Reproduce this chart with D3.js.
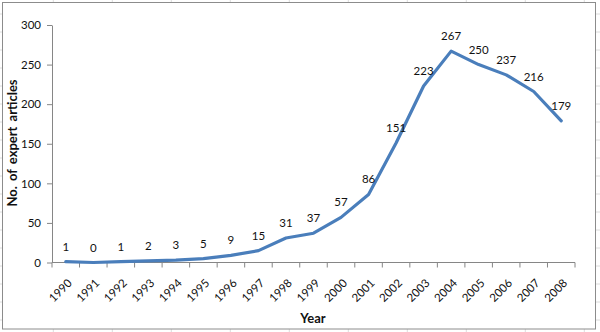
<!DOCTYPE html>
<html><head><meta charset="utf-8">
<script src="https://cdn.jsdelivr.net/npm/d3@7"></script>
<style>body{margin:0;background:#fff}svg{display:block}</style>
</head><body>
<svg id="c" width="600" height="332"></svg>
<script>
const years = ["1990","1991","1992","1993","1994","1995","1996","1997","1998","1999","2000","2001","2002","2003","2004","2005","2006","2007","2008"];
const articles = [1,0,1,2,3,5,9,15,31,37,57,86,151,223,267,250,237,216,179];
const yTicks = [0,50,100,150,200,250,300];

(function () {
const svg = d3.select("#c");
const W = 600, H = 332;
const font = "Lato, 'Open Sans', sans-serif";

// faint spreadsheet cell grid behind the chart
const colX = d3.range(53.3, W, 59);
const rowY = d3.range(14, H, 18);
svg.selectAll(".gv").data(colX).join("line")
  .attr("x1", d => d).attr("x2", d => d).attr("y1", 0).attr("y2", H)
  .attr("stroke", "#dcdcdc").attr("stroke-width", 1);
svg.selectAll(".gh").data(rowY).join("line")
  .attr("x1", 0).attr("x2", W).attr("y1", d => d).attr("y2", d => d)
  .attr("stroke", "#dcdcdc").attr("stroke-width", 1);

// chart frame
svg.append("rect").attr("x", 2.5).attr("y", 2.5).attr("width", 593).attr("height", 326.5)
  .attr("fill", "#fff").attr("stroke", "#8c8c8c").attr("stroke-width", 1);

const pL = 52, pR = 575, pT = 25, pB = 262.5;
const x = d3.scaleBand().domain(years).range([pL, pR]);
const y = d3.scaleLinear().domain([0, 300]).range([pB, pT]);

// y axis
const yAxis = d3.axisLeft(y).tickValues(yTicks).tickSize(5).tickPadding(6).tickSizeOuter(0);
const gy = svg.append("g").attr("transform", `translate(${pL},0)`).call(yAxis);
gy.select(".domain").attr("stroke", "#868686");
gy.selectAll(".tick line").attr("stroke", "#868686");
gy.selectAll("text").attr("font-family", font).attr("font-size", 11.5).attr("fill", "#111");

// x axis: ticks between categories
const gx = svg.append("g").attr("transform", `translate(0,${pB})`);
gx.append("line").attr("x1", pL).attr("x2", pR).attr("y1", 0).attr("y2", 0).attr("stroke", "#868686");
const bounds = years.map(d => x(d)).concat([pR]);
gx.selectAll(".xt").data(bounds).join("line")
  .attr("x1", d => d).attr("x2", d => d).attr("y1", 0).attr("y2", 5).attr("stroke", "#868686");
gx.selectAll(".xl").data(years).join("text")
  .attr("transform", d => `translate(${x(d) + x.bandwidth() / 2 + 4},18.5) rotate(-45)`)
  .attr("text-anchor", "end").attr("dy", "0.35em")
  .attr("font-family", font).attr("font-size", 11.5).attr("fill", "#111")
  .text(d => d);

// line
const line = d3.line().x((d, i) => x(years[i]) + x.bandwidth() / 2).y(d => y(d));
svg.append("path").datum(articles).attr("d", line)
  .attr("fill", "none").attr("stroke", "#4a7ebb").attr("stroke-width", 3.2)
  .attr("stroke-linejoin", "round").attr("stroke-linecap", "round");

// data labels
svg.selectAll(".dl").data(articles).join("text")
  .attr("x", (d, i) => x(years[i]) + x.bandwidth() / 2)
  .attr("y", d => y(d) - 11)
  .attr("text-anchor", "middle")
  .attr("font-family", font).attr("font-size", 11.5).attr("fill", "#111")
  .text(d => d);

// axis titles
svg.append("text").attr("transform", `translate(17,143) rotate(-90)`)
  .attr("text-anchor", "middle").attr("font-family", font).attr("font-weight", "bold")
  .attr("font-size", 13).attr("fill", "#111").attr("word-spacing", 2).text("No. of expert articles");
svg.append("text").attr("x", 313).attr("y", 323)
  .attr("text-anchor", "middle").attr("font-family", font).attr("font-weight", "bold")
  .attr("font-size", 13).attr("fill", "#111").text("Year");
})();
</script>
</body></html>
